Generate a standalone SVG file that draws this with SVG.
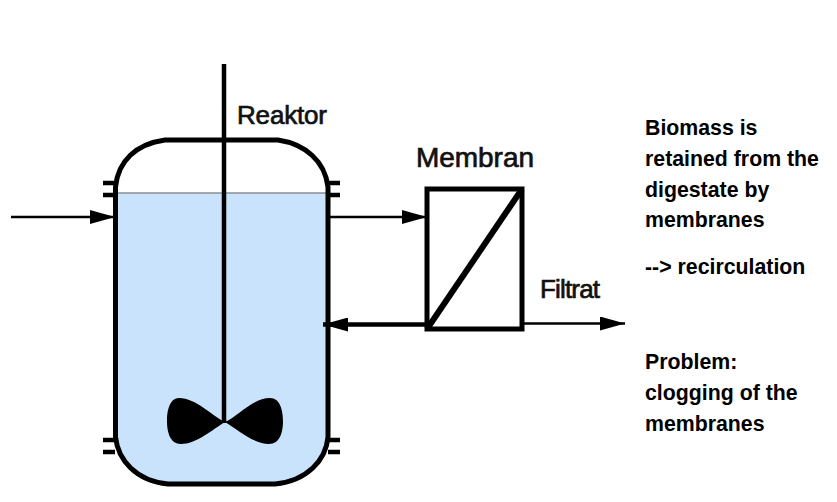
<svg xmlns="http://www.w3.org/2000/svg" width="837" height="502" viewBox="0 0 837 502">
<style>
.lbl{font-family:"Liberation Sans",Arial,sans-serif;font-size:26px;fill:#111;stroke:#111;stroke-width:.7px}
.wide{font-size:28px}
.note{font-family:"Liberation Sans",Arial,sans-serif;font-size:21.3px;font-weight:bold;fill:#000}
.ln{fill:none;stroke:#000;stroke-width:4.500}
.thin{fill:none;stroke:#000;stroke-width:2.500}
</style>
<defs>
<marker id="ah" markerUnits="userSpaceOnUse" markerWidth="26" markerHeight="14" refX="25" refY="7" orient="auto"><path d="M0 0L25 7L0 14Z" fill="#000"/></marker>
</defs>
<g id="reactor">
<path d="M115.500 193H328V437C326 460 307 481 275 484H168C136 481 118 460 115.500 437Z" fill="#c9e3fd"/>
<path d="M115.500 193H328" stroke="#8a8f94" stroke-width="1.500" fill="none"/>
<path d="M115.500 187C118 161 136 144 165 140H278C305 144 325 161 328 187V437C326 460 307 481 275 484H168C136 481 118 460 115.500 437Z" fill="none" stroke="#000" stroke-width="5"/>
<path class="ln" d="M103 183H115M103 195H115M328 183H340M328 195H340M103 440H115M103 452H115M328 440H340M328 452H340"/>
<path d="M224 64V423" fill="none" stroke="#000" stroke-width="4.500"/>
<path d="M225 422C212 416 196 398 179 398C170 398 167 410 167 421C167 432 170 444 181 444C196 444 212 430 225 422C238 430 254 444 269 444C280 444 283 432 283 421C283 410 280 398 270 398C253 398 238 416 225 422Z" fill="#000"/>
<text class="lbl" x="237" y="124" textLength="90" lengthAdjust="spacing">Reaktor</text>
</g>
<g id="membrane">
<rect x="427" y="189" width="95" height="140" fill="#fff" stroke="#000" stroke-width="5"/>
<path d="M427 329L522 189" fill="none" stroke="#000" stroke-width="6"/>
<text class="lbl wide" x="416" y="167" textLength="118" lengthAdjust="spacing">Membran</text>
</g>
<g id="connectors">
<path class="thin" d="M11 217H115" marker-end="url(#ah)"/>
<path class="thin" d="M330 217H427" marker-end="url(#ah)"/>
<path class="ln" d="M427 324.500H323" marker-end="url(#ah)"/>
<path class="thin" d="M522 323.500H625" marker-end="url(#ah)"/>
</g>
<g id="filtrate"><text class="lbl" x="540" y="298" textLength="60" lengthAdjust="spacing">Filtrat</text></g>
<g id="notes">
<text class="note" x="645" y="135">Biomass is</text>
<text class="note" x="645" y="166">retained from the</text>
<text class="note" x="645" y="197">digestate by</text>
<text class="note" x="645" y="227">membranes</text>
<text class="note" x="645" y="274">--&gt; recirculation</text>
<text class="note" x="645" y="369">Problem:</text>
<text class="note" x="645" y="400">clogging of the</text>
<text class="note" x="645" y="431">membranes</text>
</g>
</svg>
